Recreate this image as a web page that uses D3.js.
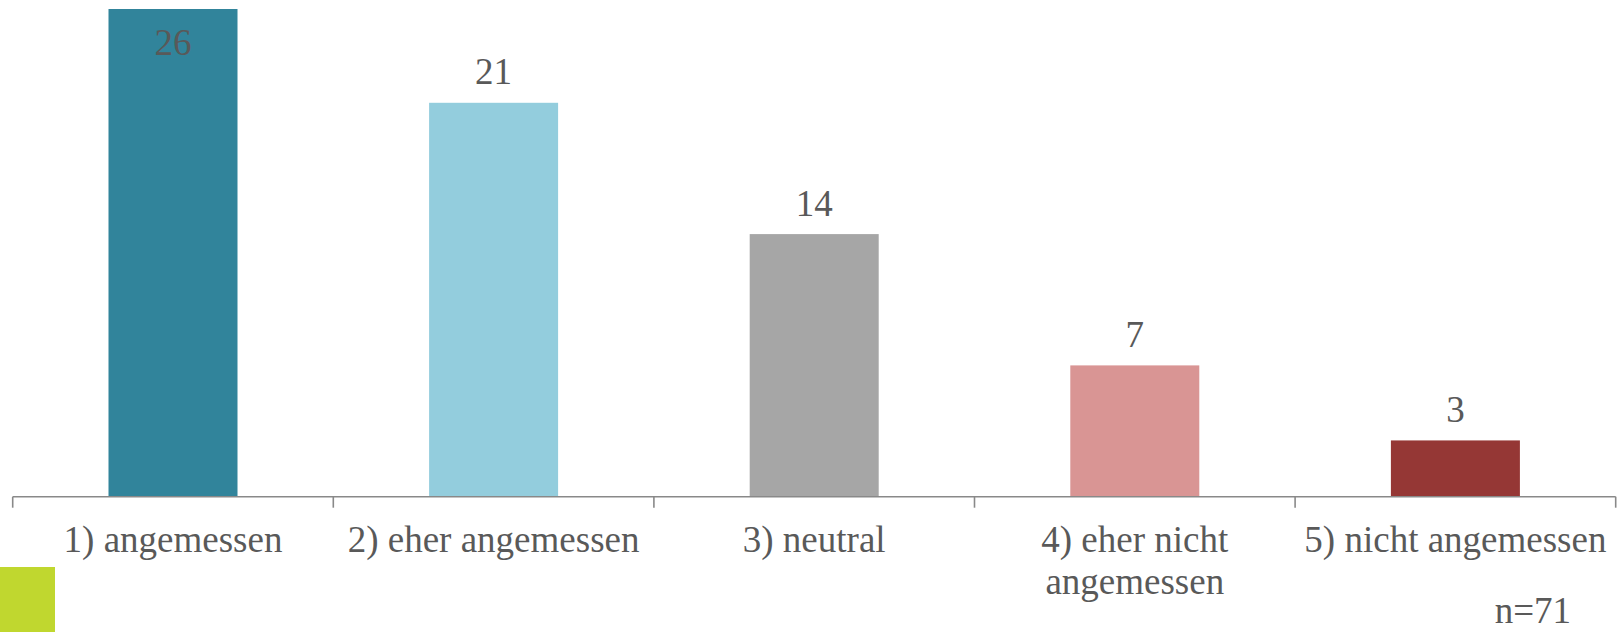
<!DOCTYPE html>
<html>
<head>
<meta charset="utf-8">
<script src="https://cdn.jsdelivr.net/npm/d3@7"></script>
<style>
  html, body { margin: 0; padding: 0; background: #fff; }
  svg { display: block; }
</style>
</head>
<body>
<svg id="chart" width="1621" height="632"></svg>
<script>
const categories = ["1) angemessen", "2) eher angemessen", "3) neutral", "4) eher nicht angemessen", "5) nicht angemessen"];
const values = [26, 21, 14, 7, 3];
const colors = ["#31849b", "#93cddd", "#a6a6a6", "#d99594", "#953735"];
const sampleNote = "n=71";

const W = 1621, H = 632;
const svg = d3.select("#chart");
const font = "'Liberation Serif', 'Times New Roman', serif";
const textColor = "#595959";
const fs = 37;

const left = 12.7, right = 1615.7, axisY = 496.7, topY = 9;

const x = d3.scaleBand().domain(categories).range([left, right]).paddingInner(0).paddingOuter(0);
const y = d3.scaleLinear().domain([0, 26]).range([axisY, topY]);
const barW = 129;

// bars
svg.append("g").selectAll("rect").data(categories).join("rect")
  .attr("x", d => x(d) + x.bandwidth() / 2 - barW / 2)
  .attr("width", barW)
  .attr("y", (d, i) => y(values[i]))
  .attr("height", (d, i) => axisY - y(values[i]))
  .attr("fill", (d, i) => colors[i]);

// value labels
svg.append("g").selectAll("text").data(categories).join("text")
  .attr("x", d => x(d) + x.bandwidth() / 2)
  .attr("y", (d, i) => Math.max(y(values[i]) - 18.5, 55))
  .attr("text-anchor", "middle")
  .attr("font-family", font)
  .attr("font-size", fs)
  .attr("fill", textColor)
  .text((d, i) => values[i]);

// axis line and ticks at band boundaries
const axisG = svg.append("g");
axisG.append("line")
  .attr("x1", left).attr("x2", right)
  .attr("y1", axisY).attr("y2", axisY)
  .attr("stroke", "#898989").attr("stroke-width", 1.6);
const bounds = categories.map(c => x(c)).concat([x.range()[1]]);
axisG.selectAll("line.tick").data(bounds).join("line")
  .attr("class", "tick")
  .attr("x1", d => d).attr("x2", d => d)
  .attr("y1", axisY).attr("y2", axisY + 11)
  .attr("stroke", "#898989").attr("stroke-width", 1.6);

// category labels with wrapping
const labG = svg.append("g");
categories.forEach(c => {
  const t = labG.append("text")
    .attr("x", x(c) + x.bandwidth() / 2)
    .attr("y", 552)
    .attr("text-anchor", "middle")
    .attr("font-family", font)
    .attr("font-size", fs)
    .attr("fill", textColor);
  const words = c.split(" ");
  let line = [];
  let tspan = t.append("tspan").attr("x", x(c) + x.bandwidth() / 2).attr("dy", 0);
  words.forEach(w => {
    line.push(w);
    tspan.text(line.join(" "));
    if (tspan.node().getComputedTextLength() > x.bandwidth() && line.length > 1) {
      line.pop();
      tspan.text(line.join(" "));
      line = [w];
      tspan = t.append("tspan").attr("x", x(c) + x.bandwidth() / 2).attr("dy", 41.5).text(w);
    }
  });
});

// sample size note
svg.append("text")
  .attr("x", 1571).attr("y", 623)
  .attr("text-anchor", "end")
  .attr("font-family", font)
  .attr("font-size", fs)
  .attr("fill", textColor)
  .text(sampleNote);

// green corner square
svg.append("rect")
  .attr("x", 0).attr("y", 567).attr("width", 55).attr("height", 65)
  .attr("fill", "#c0d72f");
</script>
</body>
</html>
